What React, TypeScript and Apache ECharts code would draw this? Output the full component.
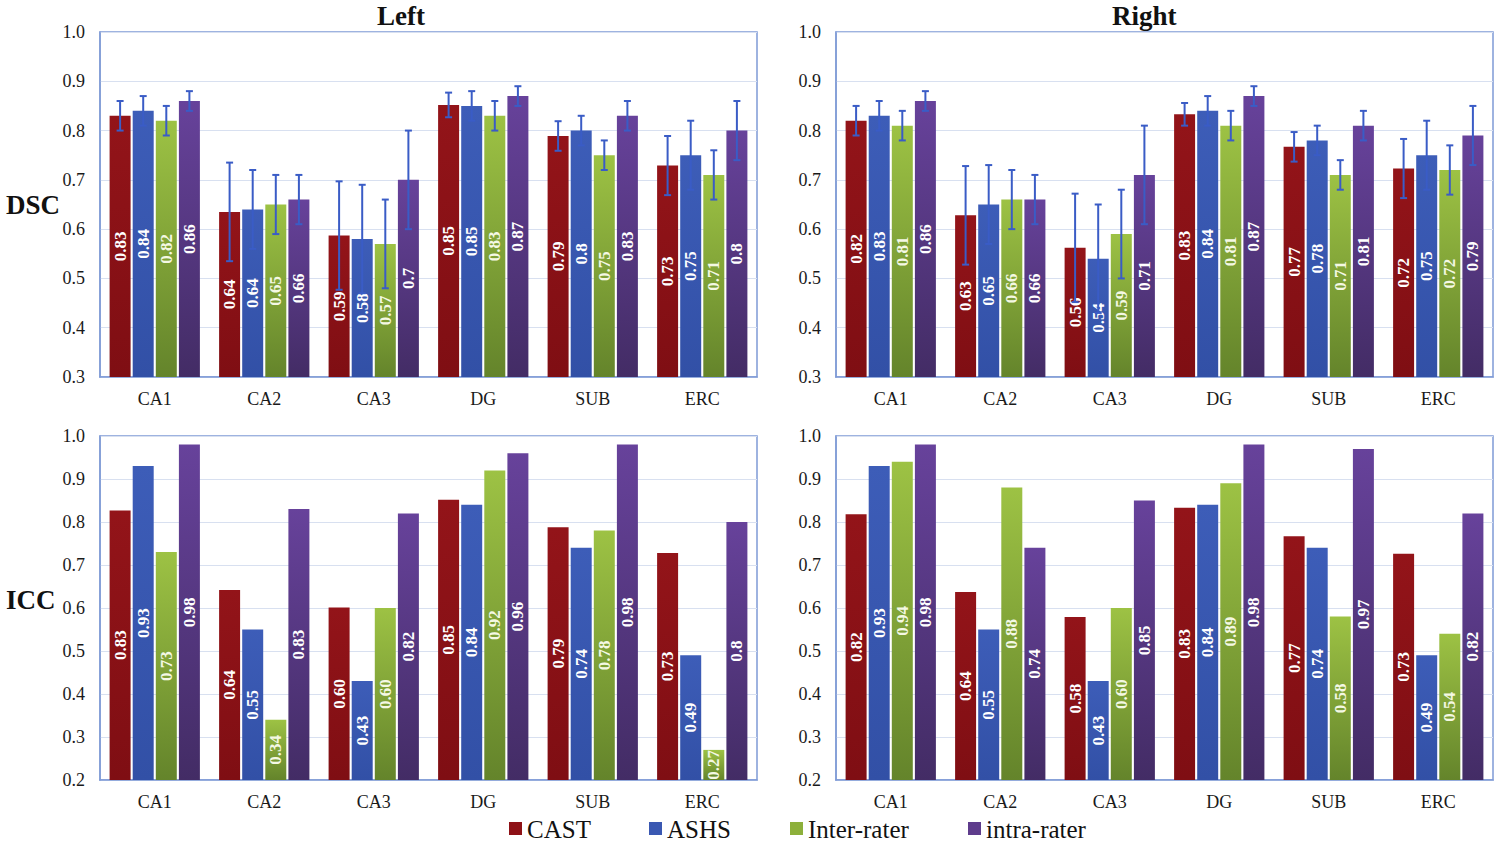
import React, { useEffect, useRef } from "react";
import * as echarts from "echarts";

// ---------- data ----------
const CATEGORIES = ["CA1", "CA2", "CA3", "DG", "SUB", "ERC"];
const SERIES_NAMES = ["CAST", "ASHS", "Inter-rater", "intra-rater"];
const DSC_TICKS = [0.3, 1.0];
const ICC_TICKS = [0.2, 1.0];

// DSC – Left
const DSC_L_CAST = [0.83, 0.635, 0.587, 0.852, 0.789, 0.729];
const DSC_L_ASHS = [0.84, 0.64, 0.58, 0.85, 0.8, 0.75];
const DSC_L_INTER = [0.82, 0.65, 0.57, 0.83, 0.75, 0.71];
const DSC_L_INTRA = [0.86, 0.66, 0.7, 0.87, 0.83, 0.8];
const DSC_L_CAST_LBL = ["0.83", "0.64", "0.59", "0.85", "0.79", "0.73"];
const DSC_L_ASHS_LBL = ["0.84", "0.64", "0.58", "0.85", "0.8", "0.75"];
const DSC_L_INTER_LBL = ["0.82", "0.65", "0.57", "0.83", "0.75", "0.71"];
const DSC_L_INTRA_LBL = ["0.86", "0.66", "0.7", "0.87", "0.83", "0.8"];
const DSC_L_CAST_SD = [0.03, 0.1, 0.11, 0.025, 0.03, 0.06];
const DSC_L_ASHS_SD = [0.03, 0.08, 0.11, 0.03, 0.03, 0.07];
const DSC_L_INTER_SD = [0.03, 0.06, 0.09, 0.03, 0.03, 0.05];
const DSC_L_INTRA_SD = [0.02, 0.05, 0.1, 0.02, 0.03, 0.06];

// DSC – Right
const DSC_R_CAST = [0.82, 0.628, 0.562, 0.833, 0.767, 0.723];
const DSC_R_ASHS = [0.83, 0.65, 0.54, 0.84, 0.78, 0.75];
const DSC_R_INTER = [0.81, 0.66, 0.59, 0.81, 0.71, 0.72];
const DSC_R_INTRA = [0.86, 0.66, 0.71, 0.87, 0.81, 0.79];
const DSC_R_CAST_LBL = ["0.82", "0.63", "0.56", "0.83", "0.77", "0.72"];
const DSC_R_ASHS_LBL = ["0.83", "0.65", "0.54", "0.84", "0.78", "0.75"];
const DSC_R_INTER_LBL = ["0.81", "0.66", "0.59", "0.81", "0.71", "0.72"];
const DSC_R_INTRA_LBL = ["0.86", "0.66", "0.71", "0.87", "0.81", "0.79"];
const DSC_R_CAST_SD = [0.03, 0.1, 0.11, 0.023, 0.03, 0.06];
const DSC_R_ASHS_SD = [0.03, 0.08, 0.11, 0.03, 0.03, 0.07];
const DSC_R_INTER_SD = [0.03, 0.06, 0.09, 0.03, 0.03, 0.05];
const DSC_R_INTRA_SD = [0.02, 0.05, 0.1, 0.02, 0.03, 0.06];

// ICC – Left
const ICC_L_CAST = [0.827, 0.642, 0.601, 0.852, 0.788, 0.728];
const ICC_L_ASHS = [0.93, 0.55, 0.43, 0.84, 0.74, 0.49];
const ICC_L_INTER = [0.73, 0.34, 0.6, 0.92, 0.78, 0.27];
const ICC_L_INTRA = [0.98, 0.83, 0.82, 0.96, 0.98, 0.8];
const ICC_L_CAST_LBL = ["0.83", "0.64", "0.60", "0.85", "0.79", "0.73"];
const ICC_L_ASHS_LBL = ["0.93", "0.55", "0.43", "0.84", "0.74", "0.49"];
const ICC_L_INTER_LBL = ["0.73", "0.34", "0.60", "0.92", "0.78", "0.27"];
const ICC_L_INTRA_LBL = ["0.98", "0.83", "0.82", "0.96", "0.98", "0.8"];

// ICC – Right
const ICC_R_CAST = [0.818, 0.637, 0.579, 0.833, 0.767, 0.726];
const ICC_R_ASHS = [0.93, 0.55, 0.43, 0.84, 0.74, 0.49];
const ICC_R_INTER = [0.94, 0.88, 0.6, 0.89, 0.58, 0.54];
const ICC_R_INTRA = [0.98, 0.74, 0.85, 0.98, 0.97, 0.82];
const ICC_R_CAST_LBL = ["0.82", "0.64", "0.58", "0.83", "0.77", "0.73"];
const ICC_R_ASHS_LBL = ["0.93", "0.55", "0.43", "0.84", "0.74", "0.49"];
const ICC_R_INTER_LBL = ["0.94", "0.88", "0.60", "0.89", "0.58", "0.54"];
const ICC_R_INTRA_LBL = ["0.98", "0.74", "0.85", "0.98", "0.97", "0.82"];

// ---------- styling ----------
const FONT = "Liberation Serif";
const BAR_W = 21;
const BAR_STEP = BAR_W * 1.1;
const SOLID = ["#8E1116", "#3A58B2", "#8DB03B", "#5E3C8C"];
const GRAD = [
  ["#931419", "#7F0E13"],
  ["#3D5DB8", "#3250A6"],
  ["#9DC244", "#64842B"],
  ["#67429B", "#432C65"],
];
const BORDER = "#7F9BD6";
const GRIDLINE = "#D8E0F0";
const ERR_COLOR = "#3A5CC6";
const LEGEND_X = [509, 649, 790, 968];

function gradient(i: number) {
  return new echarts.graphic.LinearGradient(0, 0, 0, 1, [
    { offset: 0, color: GRAD[i][0] },
    { offset: 1, color: GRAD[i][1] },
  ]);
}

function renderErr(params: any, api: any) {
  const cat = api.value(0);
  const s = api.value(1);
  const lo = api.value(2);
  const hi = api.value(3);
  const top = api.coord([cat, hi]);
  const bot = api.coord([cat, lo]);
  const x = top[0] + (s - 1.5) * BAR_STEP;
  const cap = 3.5;
  const style = { stroke: ERR_COLOR, lineWidth: 2 };
  return {
    type: "group",
    children: [
      { type: "line", shape: { x1: x, y1: top[1], x2: x, y2: bot[1] }, style },
      { type: "line", shape: { x1: x - cap, y1: top[1], x2: x + cap, y2: top[1] }, style },
      { type: "line", shape: { x1: x - cap, y1: bot[1], x2: x + cap, y2: bot[1] }, style },
    ],
  };
}

export default function App() {
  const ref = useRef<HTMLDivElement>(null);

  useEffect(() => {
    if (!ref.current) return;
    const chart = echarts.init(ref.current, undefined, { renderer: "svg" });

    const panels = [
      { vals: [DSC_L_CAST, DSC_L_ASHS, DSC_L_INTER, DSC_L_INTRA], lbls: [DSC_L_CAST_LBL, DSC_L_ASHS_LBL, DSC_L_INTER_LBL, DSC_L_INTRA_LBL], sd: [DSC_L_CAST_SD, DSC_L_ASHS_SD, DSC_L_INTER_SD, DSC_L_INTRA_SD], ticks: DSC_TICKS },
      { vals: [DSC_R_CAST, DSC_R_ASHS, DSC_R_INTER, DSC_R_INTRA], lbls: [DSC_R_CAST_LBL, DSC_R_ASHS_LBL, DSC_R_INTER_LBL, DSC_R_INTRA_LBL], sd: [DSC_R_CAST_SD, DSC_R_ASHS_SD, DSC_R_INTER_SD, DSC_R_INTRA_SD], ticks: DSC_TICKS },
      { vals: [ICC_L_CAST, ICC_L_ASHS, ICC_L_INTER, ICC_L_INTRA], lbls: [ICC_L_CAST_LBL, ICC_L_ASHS_LBL, ICC_L_INTER_LBL, ICC_L_INTRA_LBL], sd: null, ticks: ICC_TICKS },
      { vals: [ICC_R_CAST, ICC_R_ASHS, ICC_R_INTER, ICC_R_INTRA], lbls: [ICC_R_CAST_LBL, ICC_R_ASHS_LBL, ICC_R_INTER_LBL, ICC_R_INTRA_LBL], sd: null, ticks: ICC_TICKS },
    ];

    const gridPos = [
      { left: 100, top: 32, width: 657, height: 345 },
      { left: 836, top: 32, width: 657, height: 345 },
      { left: 100, top: 436, width: 657, height: 344 },
      { left: 836, top: 436, width: 657, height: 344 },
    ];

    const grid = gridPos.map((g) => ({
      ...g,
      show: true,
      borderColor: BORDER,
      borderWidth: 1.5,
      backgroundColor: "transparent",
    }));

    const xAxis = gridPos.map((_, i) => ({
      type: "category",
      gridIndex: i,
      data: CATEGORIES,
      axisLine: { show: true, lineStyle: { color: BORDER, width: 1.5 } },
      axisTick: { show: false },
      axisLabel: { color: "#1a1a1a", fontFamily: FONT, fontSize: 18, margin: 13 },
    }));

    const yAxis = panels.map((p, i) => ({
      type: "value",
      gridIndex: i,
      min: p.ticks[0],
      max: p.ticks[1],
      interval: 0.1,
      axisLine: { show: true, lineStyle: { color: BORDER, width: 1.5 } },
      axisTick: { show: false },
      splitLine: { show: true, lineStyle: { color: GRIDLINE, width: 1 } },
      axisLabel: {
        color: "#1a1a1a",
        fontFamily: FONT,
        fontSize: 18,
        margin: 15,
        formatter: (v: number) => v.toFixed(1),
      },
    }));

    const series: any[] = [];
    panels.forEach((p, gi) => {
      p.vals.forEach((vals, si) => {
        const lbls = p.lbls[si];
        series.push({
          type: "bar",
          name: SERIES_NAMES[si],
          xAxisIndex: gi,
          yAxisIndex: gi,
          data: vals,
          barWidth: BAR_W,
          barGap: "10%",
          itemStyle: { color: gradient(si) },
          label: {
            show: true,
            position: "inside",
            rotate: 90,
            color: si === 2 ? "#F4F8E4" : "#ffffff",
            fontFamily: FONT,
            fontWeight: "bold",
            fontSize: 17,
            formatter: (pp: any) => lbls[pp.dataIndex],
          },
          z: 2,
        });
      });
      if (p.sd) {
        const errData: number[][] = [];
        p.vals.forEach((vals, si) => {
          vals.forEach((v, ci) => {
            const sd = (p.sd as number[][])[si][ci];
            errData.push([ci, si, v - sd, v + sd]);
          });
        });
        series.push({
          type: "custom",
          name: "err" + gi,
          xAxisIndex: gi,
          yAxisIndex: gi,
          renderItem: renderErr,
          encode: { x: 0, y: [2, 3] },
          data: errData,
          z: 5,
          silent: true,
        });
      }
    });

    const titleStyle = { fontFamily: FONT, fontWeight: "bold", fontSize: 27, fill: "#111" };

    const legendGraphics: any[] = [];
    SERIES_NAMES.forEach((n, i) => {
      legendGraphics.push({
        type: "rect",
        shape: { x: LEGEND_X[i], y: 822, width: 13, height: 13 },
        style: { fill: SOLID[i] },
      });
      legendGraphics.push({
        type: "text",
        x: LEGEND_X[i] + 18,
        y: 829,
        style: {
          text: n,
          fontFamily: FONT,
          fontSize: 25,
          fill: "#111",
          verticalAlign: "middle",
          align: "left",
        },
      });
    });

    chart.setOption({
      animation: false,
      backgroundColor: "#ffffff",
      textStyle: { fontFamily: FONT },
      grid,
      xAxis,
      yAxis,
      series,
      graphic: [
        { type: "text", left: 377, top: 2, style: { ...titleStyle, text: "Left" } },
        { type: "text", left: 1112, top: 2, style: { ...titleStyle, text: "Right" } },
        { type: "text", left: 6, top: 191, style: { ...titleStyle, text: "DSC" } },
        { type: "text", left: 6, top: 586, style: { ...titleStyle, text: "ICC" } },
        ...legendGraphics,
      ],
    });

    return () => chart.dispose();
  }, []);

  return (
    <div
      ref={ref}
      style={{ position: "absolute", left: 0, top: 0, width: 1500, height: 841 }}
    />
  );
}
